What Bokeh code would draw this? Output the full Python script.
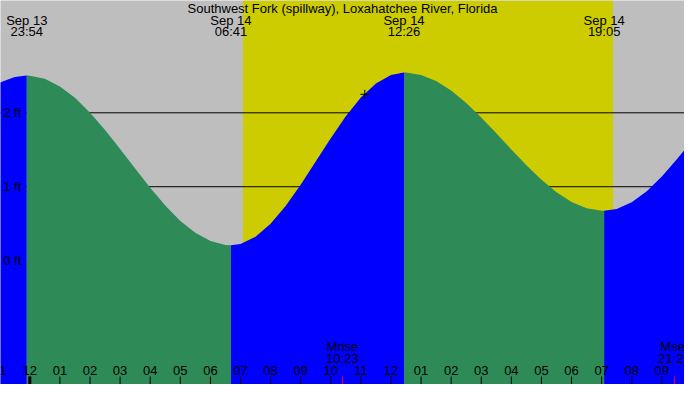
from bokeh.plotting import figure
from bokeh.models import Range1d, Label
from bokeh.core.properties import value
from bokeh.embed import file_html
from bokeh.resources import INLINE

# tide heights (ft), hours from midnight Sep 14
tide_hours = [-1.0, -0.5, -0.1, 0.0, 0.5, 1.0, 1.5, 2.0, 2.5, 3.0, 3.5, 4.0, 4.5,
              5.0, 5.5, 6.0, 6.5, 6.683, 7.0, 7.5, 8.0, 8.5, 9.0, 9.5, 10.0, 10.5,
              11.0, 11.5, 12.0, 12.433, 12.5, 13.0, 13.5, 14.0, 14.5, 15.0, 15.5,
              16.0, 16.5, 17.0, 17.5, 18.0, 18.5, 19.0, 19.083, 19.5, 20.0, 20.5,
              21.0, 21.5, 22.0]
tide_ft = [2.41, 2.485, 2.503, 2.502, 2.459, 2.357, 2.202, 2.001, 1.767, 1.510,
           1.245, 0.985, 0.746, 0.537, 0.377, 0.265, 0.212, 0.208, 0.226, 0.323,
           0.498, 0.738, 1.026, 1.340, 1.656, 1.952, 2.207, 2.396, 2.513, 2.545,
           2.545, 2.512, 2.429, 2.300, 2.133, 1.938, 1.724, 1.503, 1.289, 1.093,
           0.924, 0.795, 0.710, 0.676, 0.675, 0.699, 0.789, 0.939, 1.139, 1.372,
           1.621]

# high / low tide events
ext_hours = [-0.1, 6.683, 12.433, 19.083]
ext_dates = ["Sep 13", "Sep 14", "Sep 14", "Sep 14"]
ext_times = ["23:54", "06:41", "12:26", "19:05"]

# daylight
sunrise = 7.08
sunset = 19.38

# moon events
moon_hours = [10.383, 21.417]
moon_names = ["Mrise", "Mset"]
moon_times = ["10:23", "21:25"]

# hour ticks
tick_hours = list(range(-1, 22))
tick_labels = ["11", "12", "01", "02", "03", "04", "05", "06", "07", "08", "09",
               "10", "11", "12", "01", "02", "03", "04", "05", "06", "07", "08", "09"]

# height levels
level_ft = [0, 1, 2]
level_labels = ["0 ft", "1 ft", "2 ft"]

# current time marker
now_hour = 11.13
now_ft = 2.25

x0, x1 = -0.974, 21.753
y0, y1 = -1.675, 3.519
FONT = value("Liberation Sans")
FS = "13px"

p = figure(width=684, height=384, x_range=Range1d(x0, x1), y_range=Range1d(y0, y1),
           x_axis_type=None, y_axis_type=None, toolbar_location=None,
           output_backend="svg", min_border=0)
p.grid.visible = False
p.outline_line_color = None
p.background_fill_color = "#bebebe"
p.border_fill_color = "#bebebe"

# daylight band
p.quad(left=[sunrise], right=[sunset], bottom=[y0], top=[y1],
       fill_color="#cccc00", line_color=None)

# level lines (behind the water)
for lv in level_ft[1:]:
    p.line([x0, x1], [lv, lv], line_color="black", line_width=1)

# water fill, blue when rising, green when falling
breaks = [tide_hours[0]] + ext_hours + [tide_hours[-1]]
for a, b in zip(breaks[:-1], breaks[1:]):
    xs = [h for h in tide_hours if a <= h <= b]
    ys = [f for h, f in zip(tide_hours, tide_ft) if a <= h <= b]
    col = "#0000ff" if ys[-1] > ys[0] else "#2e8b57"
    p.varea(x=xs, y1=[y0 - 1] * len(xs), y2=ys, fill_color=col)

# level labels
p.text(x=[x0 + 0.09] * len(level_ft), y=level_ft, text=level_labels,
       text_font=FONT, text_font_size=FS, text_align="left",
       text_baseline="middle", text_color="black")

# hour ticks
px_ft = (y1 - y0) / 384
tick_top = [y0 + 8 * px_ft] * len(tick_hours)
p.segment(x0=tick_hours, y0=[y0] * len(tick_hours), x1=tick_hours, y1=tick_top,
          line_color="black", line_width=1)
p.segment(x0=[0], y0=[y0], x1=[0], y1=[y0 + 8 * px_ft], line_color="black",
          line_width=3)
p.text(x=tick_hours, y=[y0 + 14 * px_ft] * len(tick_hours), text=tick_labels,
       text_font=FONT, text_font_size=FS, text_align="center",
       text_baseline="middle", text_color="black")

# moon events
p.segment(x0=moon_hours, y0=[y0] * 2, x1=moon_hours, y1=[y0 + 8 * px_ft] * 2,
          line_color="red", line_width=1)
p.text(x=moon_hours, y=[y0 + 38 * px_ft] * 2, text=moon_names, text_font=FONT,
       text_font_size=FS, text_align="center", text_baseline="middle",
       text_color="black")
p.text(x=moon_hours, y=[y0 + 26.5 * px_ft] * 2, text=moon_times, text_font=FONT,
       text_font_size=FS, text_align="center", text_baseline="middle",
       text_color="black")

# high / low labels
p.text(x=ext_hours, y=[y1 - 19.5 * px_ft] * 4, text=ext_dates, text_font=FONT,
       text_font_size=FS, text_align="center", text_baseline="middle",
       text_color="black")
p.text(x=ext_hours, y=[y1 - 30.5 * px_ft] * 4, text=ext_times, text_font=FONT,
       text_font_size=FS, text_align="center", text_baseline="middle",
       text_color="black")

# now marker
p.scatter([now_hour], [now_ft], marker="cross", size=9, line_color="black",
          line_width=1)

p.add_layout(Label(x=342, y=376, x_units="screen", y_units="screen",
                   text="Southwest Fork (spillway), Loxahatchee River, Florida",
                   text_font="Liberation Sans", text_font_size=FS,
                   text_align="center", text_baseline="middle", text_color="black"))

open("out.html", "w").write(file_html(p, INLINE))
